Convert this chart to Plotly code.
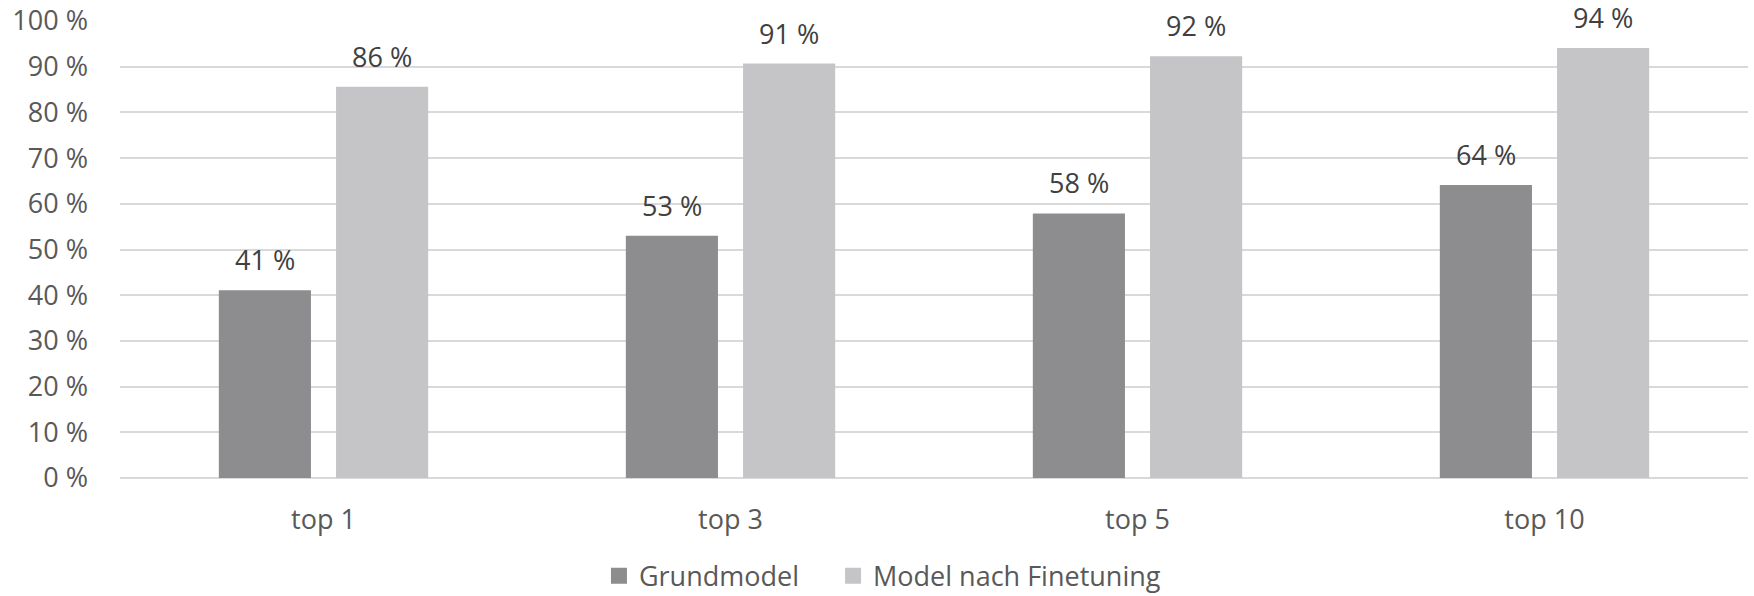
import plotly.graph_objects as go

categories = ["top 1", "top 3", "top 5", "top 10"]
grundmodel = [41.1, 53.0, 57.9, 64.1]
finetuned = [85.6, 90.7, 92.3, 94.1]
series_names = ["Grundmodel", "Model nach Finetuning"]
y_ticks = list(range(0, 101, 10))
y_tick_labels = [f"{v} %" for v in y_ticks]

DARK = "#8D8D8F"
LIGHT = "#C5C5C7"
FONT = "Open Sans"
AX_SIZE = 27

fig = go.Figure()
fig.add_trace(go.Bar(x=categories, y=grundmodel, name=series_names[0],
                     marker=dict(color=DARK, line=dict(width=0)), showlegend=False))
fig.add_trace(go.Bar(x=categories, y=finetuned, name=series_names[1],
                     marker=dict(color=LIGHT, line=dict(width=0)), showlegend=False))
# legend entries with larger square symbols
for nm, col, lg in ((series_names[0], DARK, "legend"), (series_names[1], LIGHT, "legend2")):
    fig.add_trace(go.Scatter(x=[None], y=[None], mode="markers", name=nm, legend=lg,
                             marker=dict(symbol="square", size=16, color=col,
                                         line=dict(width=0)),
                             showlegend=True, hoverinfo="skip"))

shift = 58.5
for cat, a, b in zip(categories, grundmodel, finetuned):
    for val, xs in ((a, -shift), (b, shift)):
        fig.add_annotation(x=cat, y=val, xref="x", yref="y", text=f"{val:.0f} %",
                           showarrow=False, yanchor="bottom", xshift=xs, yshift=10,
                           font=dict(family=FONT, size=AX_SIZE, color="#404040"))

legend_common = dict(orientation="h", xanchor="left", y=-0.215, yanchor="middle",
                     font=dict(family=FONT, size=AX_SIZE, color="#595959"),
                     itemwidth=30, bgcolor="rgba(0,0,0,0)", itemsizing="trace")

fig.update_layout(
    width=1754, height=596,
    margin=dict(l=120, r=6, t=21, b=118, autoexpand=False),
    paper_bgcolor="white", plot_bgcolor="white",
    barmode="group", bargap=0.424, bargroupgap=0.214,
    font=dict(family=FONT, size=AX_SIZE, color="#595959"),
    showlegend=True,
    legend=dict(x=0.2942, **legend_common),
    legend2=dict(x=0.438, **legend_common),
)
fig.update_xaxes(showgrid=False, showline=False, zeroline=False, ticks="",
                 ticklabelstandoff=23, tickfont=dict(size=AX_SIZE, color="#595959"))
fig.update_yaxes(range=[0, 100], tickvals=y_ticks, ticktext=y_tick_labels,
                 showgrid=True, gridcolor="#D9D9D9", gridwidth=2,
                 zeroline=True, zerolinecolor="#D9D9D9", zerolinewidth=2,
                 showline=False, ticks="", ticklabelstandoff=31,
                 tickfont=dict(size=AX_SIZE, color="#595959"))

fig.write_html("out.html")
